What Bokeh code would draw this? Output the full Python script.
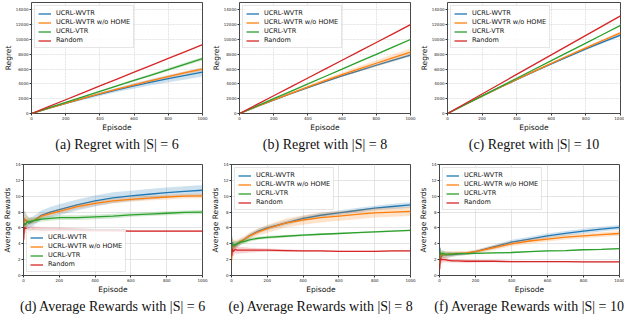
from bokeh.plotting import figure
from bokeh.layouts import column, row
from bokeh.models import Range1d, FixedTicker, Legend, LegendItem, Title
from bokeh.embed import file_html
from bokeh.resources import INLINE

NAMES = ["UCRL-WVTR", "UCRL-WVTR w/o HOME", "UCRL-VTR", "Random"]
COLORS = ["#1f77b4", "#ff7f0e", "#2ca02c", "#d62728"]

# ---------------- Regret data ----------------
ep_regret = [0, 100, 200, 300, 400, 500, 600, 700, 800, 900, 1000]

reg6_wvtr = [0, 700, 1370, 2010, 2620, 3190, 3730, 4230, 4700, 5140, 5600]
reg6_home = [0, 700, 1380, 2040, 2680, 3290, 3880, 4450, 4990, 5510, 6000]
reg6_vtr = [0, 760, 1510, 2260, 3000, 3740, 4470, 5200, 5940, 6670, 7400]
reg6_rand = [0, 930, 1860, 2790, 3720, 4650, 5580, 6510, 7440, 8370, 9300]
reg6_wvtr_sd = [0, 60, 120, 180, 240, 300, 360, 420, 480, 540, 600]
reg6_home_sd = [0, 25, 50, 75, 100, 125, 150, 175, 200, 225, 250]
reg6_vtr_sd = [0, 25, 50, 75, 100, 125, 150, 175, 200, 225, 250]
reg6_rand_sd = [0, 5, 10, 15, 20, 25, 30, 35, 40, 45, 50]

reg8_wvtr = [0, 920, 1810, 2670, 3500, 4300, 5070, 5810, 6520, 7210, 7900]
reg8_home = [0, 930, 1840, 2730, 3600, 4440, 5250, 6030, 6790, 7550, 8300]
reg8_vtr = [0, 1000, 2000, 3000, 4000, 5000, 6000, 7000, 8000, 9000, 10000]
reg8_rand = [0, 1200, 2400, 3600, 4800, 6000, 7200, 8400, 9600, 10800, 12000]
reg8_wvtr_sd = [0, 20, 40, 60, 80, 100, 120, 140, 160, 180, 200]
reg8_home_sd = [0, 50, 100, 150, 200, 250, 300, 350, 400, 450, 500]
reg8_vtr_sd = [0, 10, 20, 30, 40, 50, 60, 70, 80, 90, 100]
reg8_rand_sd = [0, 5, 10, 15, 20, 25, 30, 35, 40, 45, 50]

reg10_wvtr = [0, 1180, 2340, 3480, 4580, 5660, 6710, 7730, 8720, 9670, 10600]
reg10_home = [0, 1180, 2340, 3480, 4600, 5700, 6780, 7840, 8880, 9900, 10900]
reg10_vtr = [0, 1190, 2380, 3570, 4760, 5950, 7140, 8330, 9520, 10710, 11900]
reg10_rand = [0, 1320, 2640, 3960, 5280, 6600, 7920, 9240, 10560, 11880, 13200]
reg10_wvtr_sd = [0, 20, 40, 60, 80, 100, 120, 140, 160, 180, 200]
reg10_home_sd = [0, 20, 40, 60, 80, 100, 120, 140, 160, 180, 200]
reg10_vtr_sd = [0, 5, 10, 15, 20, 25, 30, 35, 40, 45, 50]
reg10_rand_sd = [0, 5, 10, 15, 20, 25, 30, 35, 40, 45, 50]

# ---------------- Average reward data ----------------
ep_reward = [1, 5, 10, 20, 30, 50, 75, 100, 150, 200, 300, 400, 500, 600, 700, 800, 900, 1000]

rew6_wvtr = [7.2, 6.9, 7.0, 6.8, 6.6, 6.8, 7.2, 7.6, 8.0, 8.3, 8.9, 9.4, 9.8, 10.05, 10.25, 10.45, 10.6, 10.75]
rew6_home = [6.5, 7.2, 7.0, 6.9, 6.8, 6.9, 7.1, 7.5, 7.8, 8.1, 8.7, 9.1, 9.4, 9.6, 9.75, 9.9, 10.0, 10.05]
rew6_vtr = [6.2, 6.6, 6.4, 6.7, 6.8, 6.9, 7.0, 7.1, 7.2, 7.3, 7.3, 7.4, 7.5, 7.65, 7.75, 7.85, 7.95, 8.0]
rew6_rand = [4.5, 6.1, 6.0, 5.8, 5.7, 5.8, 5.75, 5.7, 5.7, 5.75, 5.7, 5.65, 5.65, 5.6, 5.6, 5.6, 5.6, 5.6]
rew6_wvtr_sd = [1.5, 1.2, 1.0, 0.8, 0.7, 0.6, 0.6, 0.6, 0.65, 0.7, 0.7, 0.7, 0.7, 0.65, 0.65, 0.65, 0.65, 0.65]
rew6_home_sd = [1.2, 1.0, 0.8, 0.6, 0.5, 0.4, 0.35, 0.3, 0.3, 0.3, 0.3, 0.3, 0.3, 0.3, 0.3, 0.3, 0.3, 0.3]
rew6_vtr_sd = [1.0, 0.8, 0.6, 0.5, 0.4, 0.35, 0.3, 0.3, 0.3, 0.3, 0.3, 0.3, 0.3, 0.25, 0.25, 0.25, 0.25, 0.25]
rew6_rand_sd = [1.0, 0.8, 0.6, 0.5, 0.45, 0.4, 0.4, 0.4, 0.35, 0.3, 0.25, 0.2, 0.15, 0.12, 0.1, 0.1, 0.1, 0.1]

rew8_wvtr = [3.0, 4.2, 3.6, 3.8, 3.9, 4.2, 4.6, 5.0, 5.6, 6.0, 6.6, 7.2, 7.6, 7.9, 8.2, 8.5, 8.7, 8.9]
rew8_home = [2.0, 3.8, 3.7, 3.9, 4.0, 4.3, 4.6, 5.0, 5.5, 5.9, 6.6, 7.0, 7.3, 7.5, 7.7, 7.9, 8.0, 8.1]
rew8_vtr = [3.5, 4.0, 3.8, 3.9, 4.0, 4.2, 4.3, 4.5, 4.7, 4.8, 4.95, 5.1, 5.2, 5.3, 5.4, 5.5, 5.6, 5.7]
rew8_rand = [2.5, 3.4, 3.0, 3.3, 3.2, 3.2, 3.2, 3.2, 3.2, 3.2, 3.15, 3.1, 3.1, 3.05, 3.05, 3.05, 3.1, 3.1]
rew8_wvtr_sd = [1.2, 0.9, 0.7, 0.5, 0.4, 0.35, 0.3, 0.3, 0.3, 0.3, 0.3, 0.3, 0.3, 0.3, 0.3, 0.3, 0.35, 0.35]
rew8_home_sd = [1.5, 1.0, 0.8, 0.6, 0.5, 0.45, 0.4, 0.4, 0.45, 0.5, 0.55, 0.6, 0.6, 0.6, 0.6, 0.6, 0.6, 0.6]
rew8_vtr_sd = [1.0, 0.7, 0.5, 0.4, 0.35, 0.3, 0.3, 0.25, 0.2, 0.2, 0.15, 0.15, 0.12, 0.1, 0.1, 0.1, 0.1, 0.1]
rew8_rand_sd = [1.0, 0.8, 0.6, 0.5, 0.45, 0.4, 0.35, 0.3, 0.25, 0.2, 0.15, 0.12, 0.1, 0.08, 0.08, 0.08, 0.08, 0.08]

rew10_wvtr = [3.5, 2.2, 2.4, 2.6, 2.6, 2.6, 2.65, 2.7, 2.8, 3.0, 3.6, 4.2, 4.6, 5.0, 5.3, 5.6, 5.85, 6.07]
rew10_home = [1.5, 2.8, 2.5, 2.7, 2.6, 2.7, 2.75, 2.8, 2.85, 3.0, 3.5, 4.0, 4.35, 4.6, 4.85, 5.0, 5.15, 5.3]
rew10_vtr = [2.5, 2.9, 2.7, 2.8, 2.7, 2.7, 2.7, 2.75, 2.75, 2.8, 2.85, 2.9, 3.0, 3.1, 3.15, 3.25, 3.3, 3.4]
rew10_rand = [0.8, 2.2, 2.0, 2.0, 2.0, 1.9, 1.85, 1.85, 1.8, 1.8, 1.8, 1.75, 1.75, 1.75, 1.75, 1.72, 1.72, 1.72]
rew10_wvtr_sd = [1.2, 0.8, 0.6, 0.45, 0.4, 0.35, 0.3, 0.25, 0.2, 0.2, 0.25, 0.3, 0.3, 0.3, 0.3, 0.3, 0.3, 0.3]
rew10_home_sd = [1.2, 0.8, 0.6, 0.5, 0.45, 0.4, 0.35, 0.3, 0.25, 0.25, 0.3, 0.3, 0.3, 0.3, 0.3, 0.3, 0.3, 0.3]
rew10_vtr_sd = [0.8, 0.6, 0.45, 0.35, 0.3, 0.25, 0.2, 0.15, 0.12, 0.1, 0.08, 0.08, 0.08, 0.08, 0.08, 0.08, 0.08, 0.08]
rew10_rand_sd = [1.0, 0.6, 0.45, 0.35, 0.3, 0.25, 0.2, 0.2, 0.18, 0.15, 0.12, 0.1, 0.08, 0.08, 0.08, 0.08, 0.08, 0.08]

regret_ticks = [0, 2000, 4000, 6000, 8000, 10000, 12000, 14000]
reward_ticks = [0, 2, 4, 6, 8, 10, 12, 14]
episode_ticks = [0, 200, 400, 600, 800, 1000]

CAPTIONS = [
    "(a) Regret with |S| = 6",
    "(b) Regret with |S| = 8",
    "(c) Regret with |S| = 10",
    "(d) Average Rewards with |S| = 6",
    "(e) Average Rewards with |S| = 8",
    "(f) Average Rewards with |S| = 10",
]


def panel(x, ys, sds, ymax, yticks, ylabel, caption, legend_loc,
          width, height, bl, br, bt, bb, grid_dash):
    p = figure(width=width, height=height, output_backend="svg",
               toolbar_location=None,
               x_range=Range1d(0, 1000), y_range=Range1d(0, ymax),
               min_border_left=bl, min_border_right=br,
               min_border_top=bt, min_border_bottom=bb)
    p.background_fill_color = "white"
    p.border_fill_color = "white"
    p.outline_line_color = "#333333"
    p.outline_line_width = 0.9
    items = []
    for y, sd, c, n in zip(ys, sds, COLORS, NAMES):
        lo = [a - b for a, b in zip(y, sd)]
        hi = [a + b for a, b in zip(y, sd)]
        p.varea(x=x, y1=lo, y2=hi, fill_color=c, fill_alpha=0.22)
        r = p.line(x, y, line_color=c, line_width=1.3)
        items.append(LegendItem(label=n, renderers=[r]))

    for ax, ticks in ((p.xaxis[0], episode_ticks), (p.yaxis[0], yticks)):
        ax.ticker = FixedTicker(ticks=ticks)
        ax.major_label_text_font = "DejaVu Sans"
        ax.major_label_text_font_size = "4px"
        ax.major_label_text_color = "#222222"
        ax.major_tick_out = 2
        ax.major_tick_in = 0
        ax.minor_tick_out = 0
        ax.minor_tick_in = 0
        ax.major_tick_line_color = "#333333"
        ax.axis_line_color = None
        ax.major_label_standoff = 1
        ax.axis_label_standoff = 0
        ax.axis_label_text_font = "DejaVu Sans"
        ax.axis_label_text_font_size = "7.5px"
        ax.axis_label_text_font_style = "normal"
        ax.axis_label_text_color = "#111111"
    p.xaxis.axis_label = "Episode"
    p.yaxis.axis_label = ylabel

    p.grid.grid_line_color = "#d9d9d9"
    p.grid.grid_line_width = 0.7
    if grid_dash:
        p.grid.grid_line_dash = "2 1"

    leg = Legend(items=items, location=legend_loc)
    leg.label_text_font = "DejaVu Sans"
    leg.label_text_font_size = "6.5px"
    leg.label_text_color = "#111111"
    leg.label_height = 7
    leg.glyph_height = 7
    leg.glyph_width = 13
    leg.label_standoff = 5
    leg.spacing = 1
    leg.padding = 3
    leg.margin = 3
    leg.border_line_color = "#cccccc"
    leg.border_line_width = 0.8
    leg.background_fill_alpha = 0.85
    p.add_layout(leg, "center")

    t = Title(text=caption, align="center",
              text_font="Liberation Serif", text_font_size="14px",
              text_font_style="normal", text_color="#111111", standoff=1)
    p.add_layout(t, "below")
    return p


p1 = panel(ep_regret, [reg6_wvtr, reg6_home, reg6_vtr, reg6_rand],
           [reg6_wvtr_sd, reg6_home_sd, reg6_vtr_sd, reg6_rand_sd],
           15000, regret_ticks, "Regret", CAPTIONS[0], "top_left",
           208, 156, 22, 6, 2, 43, True)
p2 = panel(ep_regret, [reg8_wvtr, reg8_home, reg8_vtr, reg8_rand],
           [reg8_wvtr_sd, reg8_home_sd, reg8_vtr_sd, reg8_rand_sd],
           15000, regret_ticks, "Regret", CAPTIONS[1], "top_left",
           208, 156, 24, 6, 2, 43, True)
p3 = panel(ep_regret, [reg10_wvtr, reg10_home, reg10_vtr, reg10_rand],
           [reg10_wvtr_sd, reg10_home_sd, reg10_vtr_sd, reg10_rand_sd],
           15000, regret_ticks, "Regret", CAPTIONS[2], "top_left",
           208, 156, 26, 4, 2, 43, True)
p4 = panel(ep_reward, [rew6_wvtr, rew6_home, rew6_vtr, rew6_rand],
           [rew6_wvtr_sd, rew6_home_sd, rew6_vtr_sd, rew6_rand_sd],
           14, reward_ticks, "Average Rewards", CAPTIONS[3], "bottom_left",
           208, 158, 16, 6, 8, 0, False)
p5 = panel(ep_reward, [rew8_wvtr, rew8_home, rew8_vtr, rew8_rand],
           [rew8_wvtr_sd, rew8_home_sd, rew8_vtr_sd, rew8_rand_sd],
           14, reward_ticks, "Average Rewards", CAPTIONS[4], "top_left",
           208, 158, 18, 6, 8, 0, False)
p6 = panel(ep_reward, [rew10_wvtr, rew10_home, rew10_vtr, rew10_rand],
           [rew10_wvtr_sd, rew10_home_sd, rew10_vtr_sd, rew10_rand_sd],
           14, reward_ticks, "Average Rewards", CAPTIONS[5], "top_left",
           208, 158, 20, 5, 8, 0, False)

layout = column(row(p1, p2, p3), row(p4, p5, p6))

open("out.html", "w").write(file_html(layout, INLINE))
